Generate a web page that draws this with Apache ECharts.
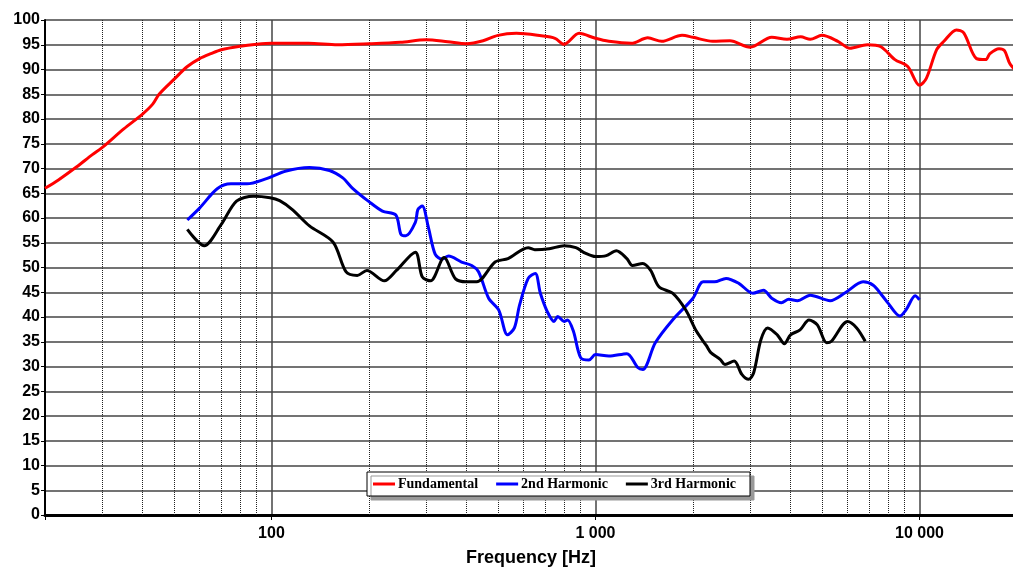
<!DOCTYPE html>
<html>
<head>
<meta charset="utf-8">
<title>Harmonic distortion</title>
<script src="https://cdn.jsdelivr.net/npm/echarts@6/dist/echarts.min.js"></script>
<style>
  html, body { margin: 0; padding: 0; background: #fff; overflow: hidden; }
  /* the plot runs a little past the right edge of the picture (up to 20 kHz) */
  #chart { width: 1020px; height: 572px; }
</style>
</head>
<body>
<div id="chart"></div>
<script>
// data: [frequency Hz, level dB]
const fundamental = [
  [20, 66], [22, 67.7], [25, 70.3], [28, 72.8], [30, 74.2], [35, 78], [40, 81], [43, 83],
  [45, 85], [50, 88], [55, 90.6], [60, 92.2], [65, 93.2], [70, 94], [80, 94.7], [90, 95.1],
  [100, 95.3], [130, 95.3], [160, 95], [200, 95.2], [250, 95.5], [300, 96], [350, 95.6],
  [400, 95.2], [450, 95.8], [500, 96.9], [570, 97.3], [680, 96.8], [750, 96.3], [800, 95.1],
  [890, 97.3], [1000, 96.3], [1100, 95.7], [1290, 95.3], [1450, 96.4], [1600, 95.7],
  [1850, 96.9], [2000, 96.5], [2300, 95.7], [2600, 95.8], [3000, 94.5], [3500, 96.5],
  [3900, 96.1], [4300, 96.6], [4600, 96.1], [5000, 96.9], [5600, 95.7], [6100, 94.3],
  [6900, 95], [7600, 94.6], [8400, 92], [9200, 90.6], [10000, 86.8], [10500, 88.2],
  [11300, 94], [11900, 95.7], [13000, 98], [13700, 97.4], [15000, 92.2], [16000, 92],
  [16500, 93.2], [17600, 94.2], [18300, 93.8], [19000, 91.2], [20000, 89.5]
]

const harmonic2 = [
  [55, 59.6], [60, 62], [68, 65.9], [75, 66.9], [84, 66.9], [96, 67.9], [111, 69.5],
  [131, 70.2], [151, 69.6], [166, 68.1], [178, 66], [200, 63.3], [220, 61.4], [242, 60.6],
  [251, 56.7], [260, 56.4], [278, 59.1], [283, 61.7], [292, 62.4], [305, 58.1], [320, 52.7],
  [336, 51.7], [352, 52.3], [386, 51.1], [415, 50.4], [436, 49.1], [468, 43.8], [503, 41.4],
  [535, 36.4], [562, 37.8], [583, 42.4], [620, 47.8], [652, 48.8], [676, 44.8], [710, 41.1],
  [745, 39.1], [765, 40.1], [800, 39.1], [820, 39.4], [855, 37.1], [900, 31.8], [955, 31.3],
  [1000, 32.4], [1100, 32.1], [1250, 32.6], [1350, 29.8], [1400, 29.4], [1530, 34.8],
  [1730, 39.4], [2000, 43.8], [2150, 47.1], [2330, 47.1], [2530, 47.8], [2770, 46.8],
  [3060, 44.8], [3300, 45.4], [3500, 43.8], [3750, 42.9], [3950, 43.6], [4200, 43.3],
  [4600, 44.4], [5300, 43.3], [5900, 44.9], [6700, 47.1], [7200, 46.4], [7700, 44.2],
  [8000, 42.8], [8700, 40.2], [9100, 41.5], [9700, 44.3], [10000, 43.5]
]

const harmonic3 = [
  [55, 57.7], [62, 54.4], [70, 58.7], [78, 63.4], [88, 64.4], [99, 64.1], [106, 63.5],
  [116, 61.7], [131, 58.4], [155, 55.1], [170, 49.1], [184, 48.4], [197, 49.4], [223, 47.3],
  [243, 49.4], [278, 53.1], [292, 48.1], [310, 47.3], [341, 52], [370, 47.7], [400, 47.1],
  [430, 47.1], [490, 51.1], [537, 51.8], [620, 54], [650, 53.6], [720, 53.8], [800, 54.4],
  [870, 54], [930, 52.9], [1000, 52.2], [1080, 52.4], [1160, 53.4], [1250, 51.8],
  [1300, 50.4], [1400, 50.8], [1480, 49.4], [1570, 46.1], [1730, 44.8], [1900, 41.4],
  [2050, 37.1], [2200, 34.2], [2270, 32.8], [2430, 31.4], [2510, 30.4], [2680, 31.1],
  [2830, 28.4], [2970, 27.4], [3080, 28.8], [3240, 35.4], [3400, 37.8], [3640, 36.4],
  [3830, 34.6], [4000, 36.4], [4280, 37.4], [4560, 39.4], [4840, 38.4], [5170, 34.8],
  [5350, 35.1], [6000, 39.1], [6400, 37.8], [6800, 35.1]
]

const xTickValues = [100, 1000, 10000]
const xTickLabels = ['100', '1 000', '10 000']
const minorFreqs = [30, 40, 50, 60, 70, 80, 90, 200, 300, 400, 500, 600, 700, 800, 900,
  2000, 3000, 4000, 5000, 6000, 7000, 8000, 9000]

const chart = echarts.init(document.getElementById('chart'))

const option = {
  animation: false,
  backgroundColor: '#fff',
  grid: { left: 45, top: 20, right: 0, bottom: 51, containLabel: false },
  legend: {
    data: ['Fundamental', '2nd Harmonic', '3rd Harmonic'],
    left: 367,
    top: 472,
    padding: [5, 14, 5, 6],
    itemGap: 18,
    itemWidth: 22,
    itemHeight: 3,
    icon: 'rect',
    backgroundColor: '#fff',
    borderColor: '#000',
    borderWidth: 1,
    shadowColor: '#999',
    shadowBlur: 0,
    shadowOffsetX: 4,
    shadowOffsetY: 4,
    textStyle: { fontFamily: 'Liberation Serif', fontWeight: 'bold', fontSize: 14, color: '#000', padding: [0, 0, 0, -2] }
  },
  xAxis: {
    type: 'log',
    logBase: 10,
    min: 20,
    max: 20000,
    name: 'Frequency [Hz]',
    nameLocation: 'middle',
    nameGap: 34,
    nameTextStyle: { fontFamily: 'Liberation Sans', fontWeight: 'bold', fontSize: 18, color: '#000' },
    axisLine: { show: true, onZero: false, lineStyle: { color: '#000', width: 3 } },
    axisTick: { show: true, length: 5, lineStyle: { color: '#000' } },
    axisLabel: {
      margin: 11,
      fontFamily: 'Liberation Sans',
      fontWeight: 'bold',
      fontSize: 16,
      color: '#000',
      formatter: (v) => {
        const i = xTickValues.indexOf(Math.round(v))
        return i >= 0 ? xTickLabels[i] : ''
      }
    },
    splitLine: { show: true, lineStyle: { color: '#444', width: 1.5 } }
  },
  yAxis: {
    type: 'value',
    min: 0,
    max: 100,
    interval: 5,
    axisLine: { show: true, lineStyle: { color: '#000', width: 2 } },
    axisTick: { show: true, length: 4, lineStyle: { color: '#000' } },
    axisLabel: {
      margin: 5,
      fontFamily: 'Liberation Sans',
      fontWeight: 'bold',
      fontSize: 16,
      color: '#000'
    },
    splitLine: { show: true, lineStyle: { color: '#444', width: 1.5 } }
  },
  series: [
    {
      name: 'minor grid',
      type: 'line',
      data: [],
      z: 1,
      markLine: {
        silent: true,
        z: 1,
        symbol: ['none', 'none'],
        label: { show: false },
        lineStyle: { color: '#222', width: 1, type: [1, 1] },
        data: minorFreqs.map(f => ({ xAxis: f }))
      }
    },
    {
      name: 'Fundamental',
      type: 'line',
      data: fundamental,
      symbol: 'none',
      smooth: 0.3,
      lineStyle: { color: '#ff0000', width: 3 },
      itemStyle: { color: '#ff0000' }
    },
    {
      name: '2nd Harmonic',
      type: 'line',
      data: harmonic2,
      symbol: 'none',
      smooth: 0.3,
      lineStyle: { color: '#0000ff', width: 3 },
      itemStyle: { color: '#0000ff' }
    },
    {
      name: '3rd Harmonic',
      type: 'line',
      data: harmonic3,
      symbol: 'none',
      smooth: 0.3,
      lineStyle: { color: '#000', width: 3 },
      itemStyle: { color: '#000' }
    }
  ]
}

chart.setOption(option)
</script>
</body>
</html>
